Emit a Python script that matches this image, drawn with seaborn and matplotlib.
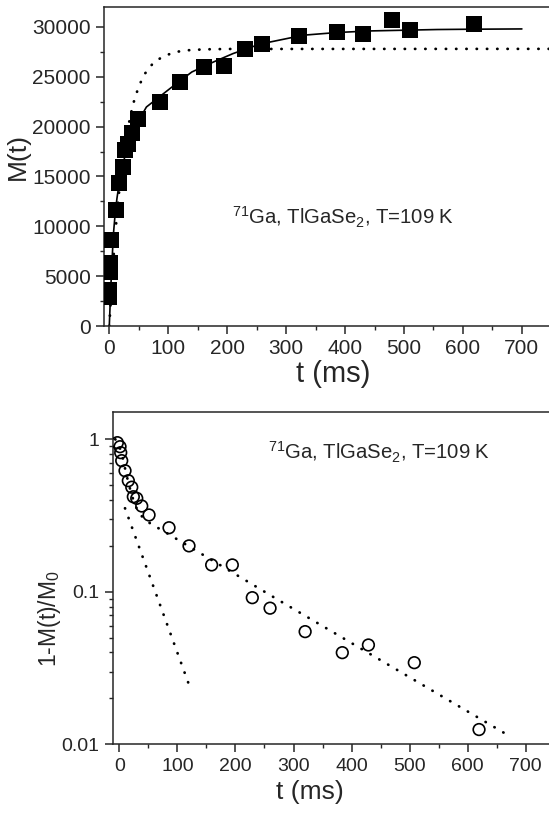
import numpy as np
import pandas as pd
import matplotlib
matplotlib.use('Agg')
import matplotlib.pyplot as plt
from matplotlib.ticker import MultipleLocator, FixedLocator, FuncFormatter, LogLocator
import seaborn as sns

sns.set_style('ticks')
plt.rcParams['font.family'] = ['Liberation Sans', 'DejaVu Sans']
plt.rcParams.update({'mathtext.default': 'regular', 'font.size': 14,
                     'axes.linewidth': 1.1})

# --- data ---
# top panel: magnetisation recovery
t_top = [-1, 0, 1, 2, 3, 11, 17, 23, 27, 31, 38, 49, 86, 120, 160, 195,
         230, 259, 322, 386, 430, 480, 510, 619]
M_top = [2900, 3600, 5400, 6300, 8600, 11600, 14300, 15950, 17630, 18300,
         19370, 20800, 22480, 24480, 25990, 26060, 27830, 28260, 29070,
         29500, 29340, 30670, 29670, 30340]

# solid fit
fit_t = [0, 2, 4, 7, 10, 13, 17, 22, 28, 35, 45, 63, 103, 140, 177, 210,
         250, 273, 329, 386, 443, 499, 556, 612, 700]
fit_M = [0, 3000, 5800, 9200, 11300, 12800, 14400, 15900, 17400, 18700,
         20100, 21970, 23820, 25480, 26490, 27330, 28160, 28490, 29170,
         29440, 29600, 29670, 29740, 29770, 29800]

# dotted single-exponential curve
dot_t = [0, 5, 10, 15, 20, 30, 40, 50, 60, 75, 90, 110, 130, 160, 200, 750]
dot_M = [0, 5040, 9165, 12540, 15310, 19430, 22190, 24040, 25280, 26420,
         26990, 27460, 27650, 27750, 27790, 27800]

# bottom panel: 1 - M(t)/M0
t_bot = [-3.4, 1.2, 2.4, 4.1, 9.8, 15.5, 21.4, 24.1, 30.0, 38.6, 51.2, 85.6,
         120, 159, 194.6, 229, 259.6, 320, 384, 429, 508, 619.5]
r_bot = [0.95, 0.894, 0.817, 0.724, 0.622, 0.535, 0.485, 0.42, 0.41, 0.365,
         0.319, 0.263, 0.20, 0.150, 0.150, 0.0915, 0.0781, 0.0548, 0.0399,
         0.0448, 0.0343, 0.0125]

# dotted fast component and dotted two-component fit
fast_t = [9.8, 118.8]
fast_r = [0.353, 0.0253]
sum_t = [-7, 0, 5, 10, 15, 20, 25, 33, 45, 55, 76, 274, 669]
sum_r = [1.0, 0.90, 0.78, 0.64, 0.53, 0.45, 0.39, 0.33, 0.295, 0.278, 0.25,
         0.0883, 0.0115]

label_txt = r'$^{71}$Ga, TlGaSe$_2$, T=109 K'
dotted = (0, (0.1, 3.6))

fig = plt.figure(figsize=(5.49, 8.14), dpi=100)
ax1 = fig.add_axes([0.1894, 0.5995, 0.8106, 0.3919])
ax2 = fig.add_axes([0.2053, 0.0856, 0.7947, 0.4083])

# --- top panel ---
sns.lineplot(x=dot_t, y=dot_M, ax=ax1, color='black', lw=2.0, sort=False,
             estimator=None, linestyle=dotted, dash_capstyle='round')
sns.lineplot(x=fit_t, y=fit_M, ax=ax1, color='black', lw=1.2, sort=False,
             estimator=None)
sns.scatterplot(x=t_top, y=M_top, ax=ax1, marker='s', s=120, color='black',
                edgecolor='black', linewidth=0, zorder=3)
ax1.set_xlim(-9, 746)
ax1.set_ylim(0, 32000)
ax1.xaxis.set_major_locator(MultipleLocator(100))
ax1.xaxis.set_minor_locator(MultipleLocator(50))
ax1.yaxis.set_major_locator(MultipleLocator(5000))
ax1.yaxis.set_minor_locator(MultipleLocator(2500))
ax1.set_xlabel('t (ms)', fontsize=21)
ax1.set_ylabel('M(t)', fontsize=19)
ax1.xaxis.set_label_coords(0.515, -0.105)
ax1.yaxis.set_label_coords(-0.166, 0.53)
ax1.tick_params(which='major', labelsize=15)
ax1.text(0.288, 0.342, label_txt, transform=ax1.transAxes, fontsize=14.6,
         ha='left', va='center')

# --- bottom panel ---
sns.lineplot(x=fast_t, y=fast_r, ax=ax2, color='black', lw=2.0, sort=False,
             estimator=None, linestyle=dotted, dash_capstyle='round')
sns.lineplot(x=sum_t, y=sum_r, ax=ax2, color='black', lw=2.0, sort=False,
             estimator=None, linestyle=dotted, dash_capstyle='round')
sns.scatterplot(x=t_bot, y=r_bot, ax=ax2, marker='o', s=70,
                facecolor='none', edgecolor='black', linewidth=1.2, zorder=3)
ax2.set_yscale('log')
ax2.set_xlim(-11.4, 740)
ax2.set_ylim(0.01, 1.51)
ax2.xaxis.set_major_locator(MultipleLocator(100))
ax2.xaxis.set_minor_locator(MultipleLocator(50))
ax2.yaxis.set_major_locator(FixedLocator([0.01, 0.1, 1]))
ax2.yaxis.set_minor_locator(LogLocator(base=10, subs=np.arange(2, 10)))
ax2.yaxis.set_major_formatter(FuncFormatter(lambda v, p: '%g' % v))
ax2.yaxis.set_minor_formatter(FuncFormatter(lambda v, p: ''))
ax2.set_xlabel('t (ms)', fontsize=19)
ax2.set_ylabel('1-M(t)/M$_0$', fontsize=16.5)
ax2.xaxis.set_label_coords(0.452, -0.107)
ax2.yaxis.set_label_coords(-0.114, 0.377)
ax2.tick_params(which='major', labelsize=14)
ax2.text(0.356, 0.877, label_txt, transform=ax2.transAxes, fontsize=14.6,
         ha='left', va='center')

for ax in (ax1, ax2):
    ax.spines['right'].set_visible(False)
    ax.spines['top'].set_visible(True)
    ax.tick_params(which='major', direction='out', length=6, width=1.1,
                   top=False, right=False)
    ax.tick_params(which='minor', direction='out', length=3, width=1.0,
                   top=False, right=False)

fig.savefig('out.png', dpi=100)
